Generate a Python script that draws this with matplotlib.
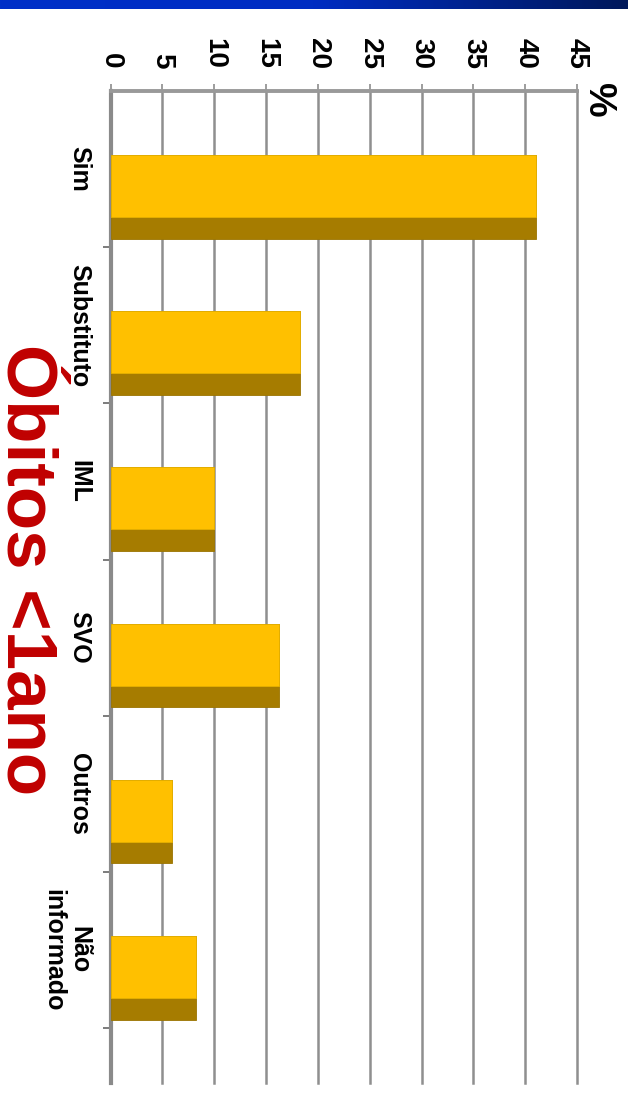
import matplotlib
matplotlib.use('Agg')
import matplotlib.pyplot as plt
import numpy as np
from matplotlib.colors import LinearSegmentedColormap

plt.rcParams['font.family'] = ['Liberation Sans', 'DejaVu Sans']
plt.rcParams['font.weight'] = 'bold'

categorias = ['Sim', 'Substituto', 'IML', 'SVO', 'Outros', 'Não\ninformado']
percentual = [41.0, 18.3, 10.0, 16.3, 5.9, 8.2]
escala = [0, 5, 10, 15, 20, 25, 30, 35, 40, 45]

W, H = 628, 1115
fig = plt.figure(figsize=(W / 100, H / 100), dpi=100)

def px(x, y):
    return x / W, 1 - y / H

# faixa azul no topo do slide
faixa = fig.add_axes([0, 1 - 9 / H, 1, 9 / H])
cmap = LinearSegmentedColormap.from_list(
    'faixa', [(0, '#0030C8'), (0.5, '#002DC2'), (1, '#00185A')])
faixa.imshow(np.linspace(0, 1, 256)[None, :], aspect='auto', cmap=cmap)
faixa.axis('off')

ax = fig.add_axes([110.5 / W, 1 - 1083 / H, (577 - 110.5) / W, (1083 - 91) / H])

y = np.arange(len(categorias))
# barra "3D": face lateral escura por baixo da face amarela
ax.barh(y - 0.09, percentual, height=0.535, align='edge',
        color='#A67C00', edgecolor='#9A7400', linewidth=0.6, zorder=3)
ax.barh(y - 0.09, percentual, height=0.397, align='edge',
        color='#FFC000', edgecolor='#E6B000', linewidth=0.6, zorder=4)

ax.set_xlim(0, 45)
ax.set_ylim(-0.5 + (1083 - 91) / 156.2, -0.5)

ax.xaxis.tick_top()
ax.set_xticks(escala)
ax.set_xticklabels([str(v) for v in escala], rotation=-90, fontsize=20,
                   fontweight='bold')
ax.tick_params(axis='x', length=5, width=1.2, color='#8C8C8C', pad=11)
ax.grid(axis='x', color='#8F8F8F', linewidth=1.8, zorder=0)
for g in ax.get_xgridlines():
    g.set_clip_on(False)
ax.set_axisbelow(True)

ax.set_yticks(y)
ax.set_yticklabels(categorias, rotation=-90, fontsize=18, fontweight='bold',
                   va='center', ha='right', multialignment='center')
for t in ax.get_yticklabels():
    t.set_linespacing(1.1)
ax.set_yticks(y + 0.5, minor=True)
ax.tick_params(axis='y', which='major', length=0, pad=14)
ax.tick_params(axis='y', which='minor', length=6, width=1.2, color='#666666')

for lado in ['right', 'bottom']:
    ax.spines[lado].set_visible(False)
ax.spines['left'].set_color('#8A8A8A')
ax.spines['left'].set_linewidth(3)
ax.spines['top'].set_color('#999999')
ax.spines['top'].set_linewidth(2.8)

fig.text(*px(598, 100), '%', rotation=-90, fontsize=28, fontweight='bold',
         ha='center', va='center')

fig.text(*px(25, 570), 'Óbitos <1ano', rotation=-90, fontsize=51,
         fontweight='bold', color='#C00000', ha='center', va='center')

fig.savefig('out.png', dpi=100)
